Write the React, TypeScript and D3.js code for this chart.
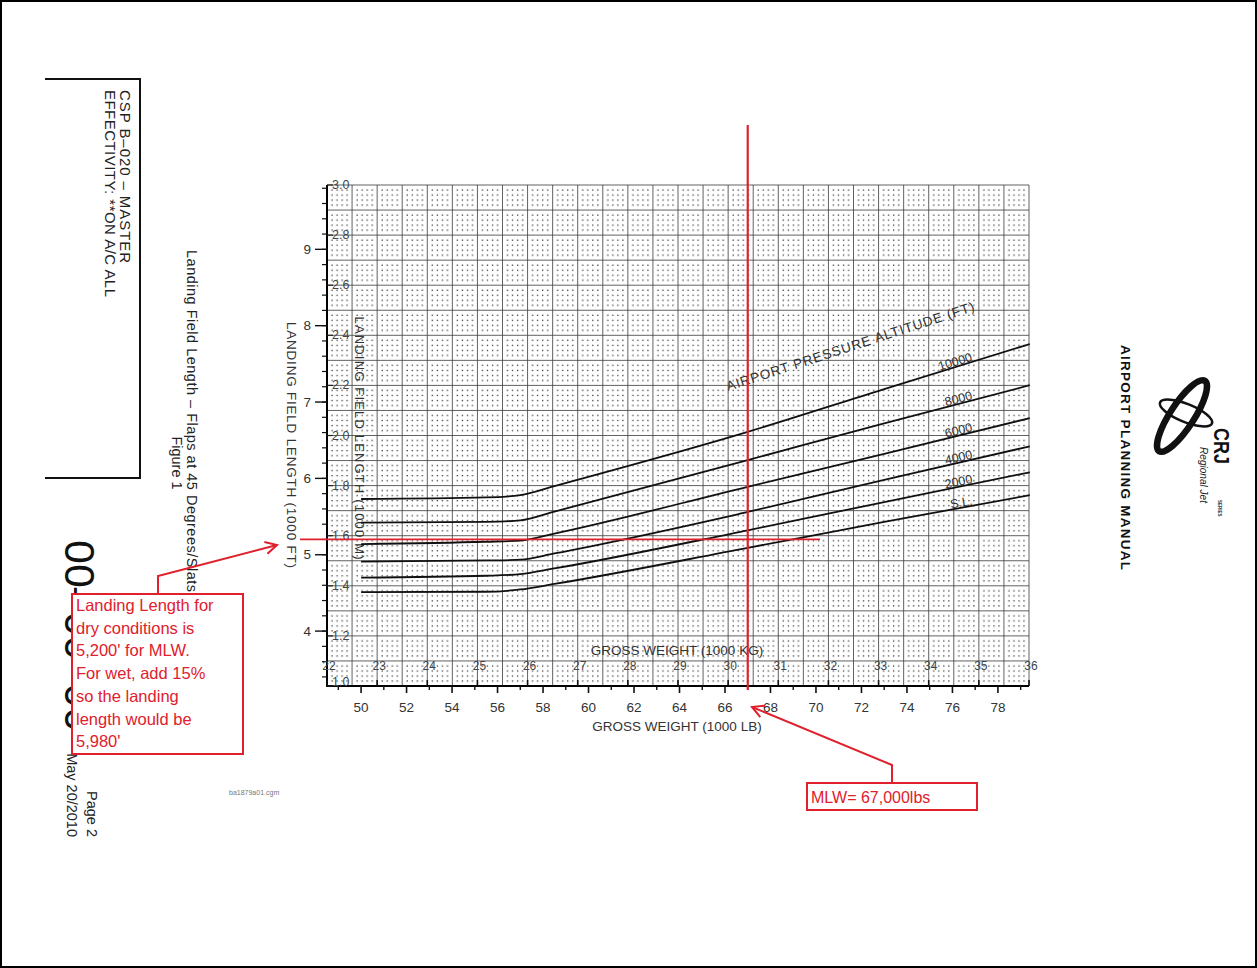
import React from 'react';
import * as d3 from 'd3';

// ---- data ----
const weightsLb = [50, 55.5, 57, 58.5, 67, 73, 79.4]; // gross weight, 1000 lb
const lenSL = [4.51, 4.515, 4.545, 4.617, 5.09, 5.43, 5.78]; // landing field length, 1000 ft
const len2000 = [4.7, 4.725, 4.745, 4.82, 5.32, 5.69, 6.08];
const len4000 = [4.91, 4.925, 4.935, 5.017, 5.56, 5.98, 6.42];
const len6000 = [5.14, 5.17, 5.185, 5.277, 5.89, 6.32, 6.79];
const len8000 = [5.42, 5.43, 5.45, 5.565, 6.24, 6.72, 7.22];
const len10000 = [5.73, 5.75, 5.78, 5.9, 6.61, 7.17, 7.76];
const altitudeLabels = ['S.L.', '2000', '4000', '6000', '8000', '10000'];
const kgTicks = d3.range(22, 37, 1);
const lbMajorTicks = d3.range(50, 79, 2);
const lbMinorTicks = d3.range(49, 80, 2);
const ftMajorTicks = [4, 5, 6, 7, 8, 9];
const ftMinorTicks = d3.range(34, 99, 2).map((v) => v / 10);
const kmTicks = d3.range(10, 31, 2).map((v) => v / 10);
const mlwLb = 67; // 1000 lb
const dryLengthFt = 5.2; // 1000 ft
const noteLines = [
  'Landing Length for',
  'dry conditions is',
  "5,200' for MLW.",
  'For wet, add 15%',
  'so the landing',
  'length would be',
  "5,980'",
];

const KG_PER_LB = 0.45359237;
const M_PER_FT = 0.3048;
const FONT = "'Liberation Sans', Arial, Helvetica, sans-serif";
const RED = '#e0202c';

function arrowHead(from: [number, number], to: [number, number], len = 13, deg = 28) {
  const a = Math.atan2(from[1] - to[1], from[0] - to[0]);
  const r = (deg * Math.PI) / 180;
  const p1 = [to[0] + len * Math.cos(a + r), to[1] + len * Math.sin(a + r)];
  const p2 = [to[0] + len * Math.cos(a - r), to[1] + len * Math.sin(a - r)];
  return `M${p1[0]},${p1[1]}L${to[0]},${to[1]}L${p2[0]},${p2[1]}`;
}

export default function App() {
  const xKg = d3.scaleLinear().domain([22, 36]).range([327, 1029]);
  const yKm = d3.scaleLinear().domain([1, 3]).range([686, 185]);
  const xLb = (lb: number) => xKg(lb * KG_PER_LB);
  const yFt = (ft: number) => yKm(ft * M_PER_FT);
  const x0 = xKg(22), x1 = xKg(36), y0 = yKm(3), y1 = yKm(1);
  const cw = xKg(22.5) - xKg(22);
  const ch = yKm(1) - yKm(1.1);

  const seriesVals = [lenSL, len2000, len4000, len6000, len8000, len10000];
  const series = altitudeLabels.map((name, i) => ({ name, values: seriesVals[i] }));
  const line = d3
    .line<[number, number]>()
    .x((d) => xLb(d[0]))
    .y((d) => yFt(d[1]))
    .curve(d3.curveMonotoneX);

  const gridX = d3.range(22, 36.01, 0.5);
  const gridY = d3.range(10, 30.01, 1).map((v) => v / 10);

  const labelX = 973;
  const lbAtLabel = xKg.invert(labelX) / KG_PER_LB;

  const mlwX = xLb(mlwLb);
  const dryY = yFt(dryLengthFt);

  const dotOffsets = [1, 2, 3, 4];

  const vText = (x: number, y: number, txt: string, size: number, extra: any = {}) => (
    <text
      transform={`translate(${x},${y}) rotate(90)`}
      fontSize={size}
      dominantBaseline="central"
      fill="#222"
      {...extra}
    >
      {txt}
    </text>
  );

  const a1: [number, number][] = [[158, 594], [158, 576], [277, 545]];
  const a2: [number, number][] = [[892, 783], [892, 765], [752, 707]];

  return (
    <svg
      width={1257}
      height={968}
      style={{ position: 'absolute', left: 0, top: 0, background: '#fff' }}
      fontFamily={FONT}
    >
      <defs>
        <pattern id="dots" patternUnits="userSpaceOnUse" x={x0} y={y0} width={cw} height={ch}>
          {dotOffsets.flatMap((i) =>
            dotOffsets.map((j) => (
              <rect
                key={`${i}-${j}`}
                x={(i * cw) / 5 - 0.6}
                y={(j * ch) / 5 - 0.6}
                width={1.3}
                height={1.3}
                fill="#3a3a3a"
              />
            ))
          )}
        </pattern>
      </defs>
      <rect x={0} y={0} width={1257} height={968} fill="#fff" />
      <rect x={1} y={1} width={1255} height={966} fill="none" stroke="#000" strokeWidth={2} />

      {/* top-left header box */}
      <path d="M45,79L140,79L140,478L45,478" fill="none" stroke="#111" strokeWidth={2} />
      {vText(125, 90, 'CSP B–020 – MASTER', 15, { textLength: 173, lengthAdjust: 'spacing' })}
      {vText(110.5, 90, 'EFFECTIVITY: **ON A/C ALL', 15, { textLength: 207, lengthAdjust: 'spacing' })}
      {vText(192, 250, 'Landing Field Length – Flaps at 45 Degrees/Slats', 14.5, { textLength: 342, lengthAdjust: 'spacing' })}
      {vText(177, 463, 'Figure 1', 14.5, { textAnchor: 'middle' })}

      {/* page id, date */}
      {vText(80, 540, '00–00–00', 43, { fill: '#111' })}
      {vText(72, 837, 'May 20/2010', 14.5, { textAnchor: 'end' })}
      {vText(92, 837, 'Page 2', 14.5, { textAnchor: 'end' })}
      <text x={229} y={795} fontSize={7} fill="#777">ba1879a01.cgm</text>

      {/* right side manual title and logo */}
      {vText(1125, 345, 'AIRPORT PLANNING MANUAL', 13.5, { fontWeight: 'bold', textLength: 225, lengthAdjust: 'spacing', fill: '#111' })}
      <ellipse cx={1182} cy={416} rx={42} ry={12} transform="rotate(-57 1182 416)" fill="none" stroke="#111" strokeWidth={6.5} />
      <ellipse cx={1186} cy={413} rx={28} ry={9} transform="rotate(22 1186 413)" fill="none" stroke="#111" strokeWidth={2.5} />
      {vText(1221, 428, 'CRJ', 22, { fontWeight: 'bold', fill: '#111', textLength: 36, lengthAdjust: 'spacingAndGlyphs' })}
      {vText(1204, 447, 'Regional Jet', 11, { fontStyle: 'italic', fill: '#222', textLength: 56, lengthAdjust: 'spacingAndGlyphs' })}
      {vText(1219, 500, 'SERIES', 4.5, { fontWeight: 'bold', fill: '#333' })}

      {/* grid */}
      <rect x={x0} y={y0} width={x1 - x0} height={y1 - y0} fill="url(#dots)" />
      {gridX.map((k) => (
        <line key={`gx${k}`} x1={xKg(k)} x2={xKg(k)} y1={y0} y2={y1} stroke="#444" strokeWidth={0.85} />
      ))}
      {gridY.map((m) => (
        <line key={`gy${m}`} x1={x0} x2={x1} y1={yKm(m)} y2={yKm(m)} stroke="#444" strokeWidth={0.85} />
      ))}

      {/* axes */}
      <line x1={x0} x2={x0} y1={y0} y2={y1 + 1} stroke="#000" strokeWidth={2} />
      <line x1={x0 - 1} x2={x1} y1={y1} y2={y1} stroke="#000" strokeWidth={2} />

      {/* ft axis (outer left) */}
      {ftMinorTicks.map((f) => (
        <line key={`fm${f}`} x1={x0 - 5} x2={x0} y1={yFt(f)} y2={yFt(f)} stroke="#111" strokeWidth={1.2} />
      ))}
      {ftMajorTicks.map((f) => (
        <g key={`ft${f}`}>
          <line x1={x0 - 12} x2={x0} y1={yFt(f)} y2={yFt(f)} stroke="#111" strokeWidth={1.4} />
          <text x={x0 - 16} y={yFt(f)} fontSize={13.5} textAnchor="end" dominantBaseline="central" fill="#333">
            {f}
          </text>
        </g>
      ))}
      {vText(291, 445, 'LANDING FIELD LENGTH (1000 FT)', 13.5, { textAnchor: 'middle', fill: '#333', textLength: 246, lengthAdjust: 'spacing' })}

      {/* km axis (inner left) */}
      {kmTicks.map((k) => (
        <g key={`km${k}`}>
          <line x1={x0} x2={x0 + 6} y1={yKm(k)} y2={yKm(k)} stroke="#222" strokeWidth={1.2} />
          <text x={x0 + 5} y={Math.min(yKm(k), 682)} fontSize={12.5} dominantBaseline="central" fill="#444">
            {k.toFixed(1)}
          </text>
        </g>
      ))}
      {vText(359, 438, 'LANDING FIELD LENGTH (1000 M)', 13, { textAnchor: 'middle', fill: '#333', textLength: 243, lengthAdjust: 'spacing' })}

      {/* kg axis (inside bottom) */}
      {kgTicks.map((k) => (
        <g key={`kg${k}`}>
          <line x1={xKg(k)} x2={xKg(k)} y1={y1} y2={y1 - 6} stroke="#111" strokeWidth={1.6} />
          <text x={xKg(k) + 2} y={666} fontSize={12} textAnchor="middle" dominantBaseline="central" fill="#444">
            {k}
          </text>
        </g>
      ))}
      <text x={677} y={655} fontSize={13.5} textAnchor="middle" fill="#333">
        GROSS WEIGHT (1000 KG)
      </text>

      {/* lb axis (outer bottom) */}
      {lbMinorTicks.filter((l) => xLb(l) <= x1).map((l) => (
        <line key={`lm${l}`} x1={xLb(l)} x2={xLb(l)} y1={y1} y2={y1 + 4} stroke="#111" strokeWidth={1.4} />
      ))}
      {lbMajorTicks.map((l) => (
        <g key={`lb${l}`}>
          <line x1={xLb(l)} x2={xLb(l)} y1={y1} y2={y1 + 7} stroke="#111" strokeWidth={1.6} />
          <text x={xLb(l)} y={712} fontSize={13.5} textAnchor="middle" fill="#333">
            {l}
          </text>
        </g>
      ))}
      <text x={677} y={731} fontSize={13.5} textAnchor="middle" fill="#333">
        GROSS WEIGHT (1000 LB)
      </text>

      {/* curves */}
      {series.map((s) => {
        const pts = weightsLb.map((w, i) => [w, s.values[i]] as [number, number]);
        const interp = d3.scaleLinear().domain(weightsLb).range(s.values);
        const n = weightsLb.length;
        const slope =
          (yFt(s.values[n - 1]) - yFt(s.values[n - 2])) / (xLb(weightsLb[n - 1]) - xLb(weightsLb[n - 2]));
        const ang = (Math.atan(slope) * 180) / Math.PI;
        const ly = yFt(interp(lbAtLabel)) - 1;
        return (
          <g key={s.name}>
            <path d={line(pts) || ''} fill="none" stroke="#111" strokeWidth={1.8} />
            <text
              transform={`translate(${labelX},${ly}) rotate(${ang})`}
              fontSize={12.5}
              textAnchor="end"
              fill="#333"
            >
              {s.name}
            </text>
          </g>
        );
      })}
      <text transform="translate(728,391) rotate(-18)" fontSize={13.5} fill="#333" textLength={260} lengthAdjust="spacing">
        AIRPORT PRESSURE ALTITUDE (FT)
      </text>

      {/* red annotation lines */}
      <line x1={mlwX} x2={mlwX} y1={125} y2={690} stroke={RED} strokeWidth={2.2} />
      <line x1={300} x2={820} y1={dryY} y2={dryY} stroke={RED} strokeWidth={1.8} />

      {/* left note */}
      <path d={`M${a1.map((p) => p.join(',')).join('L')}`} fill="none" stroke={RED} strokeWidth={2} />
      <path d={arrowHead(a1[1], a1[2])} fill="none" stroke={RED} strokeWidth={2} />
      <rect x={72} y={594} width={171} height={160} fill="#fff" stroke={RED} strokeWidth={2} />
      {noteLines.map((t, i) => (
        <text key={t} x={76} y={611 + i * 22.7} fontSize={16.5} fill={RED}>
          {t}
        </text>
      ))}

      {/* MLW note */}
      <path d={`M${a2.map((p) => p.join(',')).join('L')}`} fill="none" stroke={RED} strokeWidth={2} />
      <path d={arrowHead(a2[1], a2[2])} fill="none" stroke={RED} strokeWidth={2} />
      <rect x={807} y={783} width={170} height={27} fill="#fff" stroke={RED} strokeWidth={2} />
      <text x={811} y={803} fontSize={16} fill={RED}>
        MLW= 67,000lbs
      </text>
    </svg>
  );
}
